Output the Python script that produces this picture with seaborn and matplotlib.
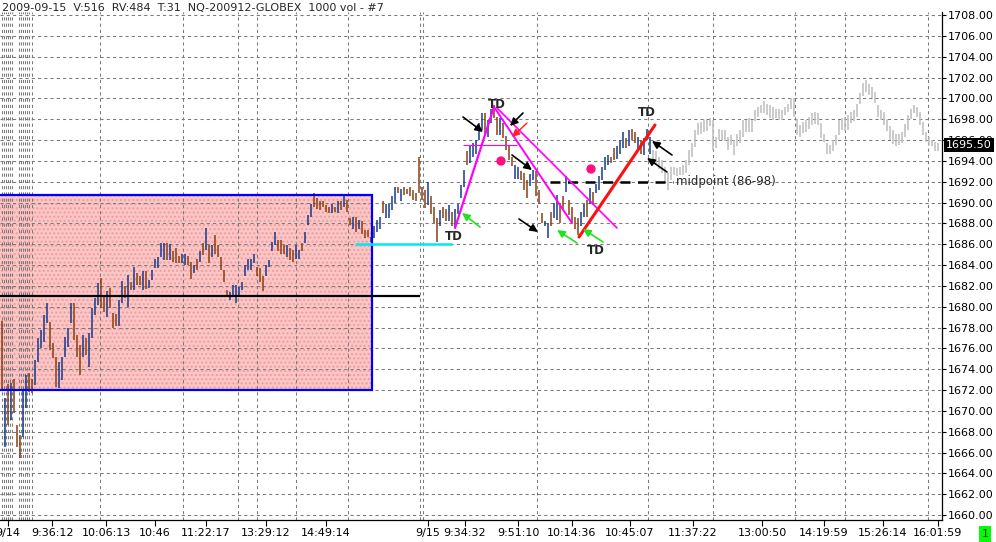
import numpy as np
import matplotlib
matplotlib.use("Agg")
import matplotlib.pyplot as plt
import matplotlib.transforms as mtransforms
from matplotlib.patches import Rectangle
import seaborn as sns

# 1000-volume bars, high / low per bar (9/14 afternoon -> 9/15)
hi_a = [1678.6, 1671.2, 1672.6, 1672.7, 1673.1, 1668.6, 1667.7, 1672.0, 1673.4, 1673.6,
        1673.1, 1674.9, 1677.0, 1677.8, 1679.2, 1680.4, 1678.5, 1676.5, 1675.2, 1674.7,
        1675.2, 1677.1, 1678.0, 1680.4, 1680.4, 1677.3, 1676.3, 1677.3, 1677.0, 1677.5,
        1679.9, 1680.8, 1682.3, 1682.8, 1681.0, 1681.5, 1681.8, 1679.4, 1679.3, 1680.6,
        1682.5, 1682.0, 1683.0]
lo_a = [1672.0, 1666.5, 1668.6, 1669.1, 1669.8, 1666.5, 1665.5, 1667.5, 1670.3, 1671.8,
        1671.7, 1672.5, 1674.7, 1676.0, 1676.6, 1678.4, 1675.8, 1675.1, 1672.3, 1672.2,
        1673.0, 1675.2, 1676.1, 1678.4, 1676.8, 1675.2, 1673.4, 1675.2, 1675.4, 1674.2,
        1677.0, 1679.2, 1680.2, 1679.9, 1679.5, 1679.0, 1679.9, 1678.0, 1678.1, 1678.1,
        1680.4, 1680.8, 1680.0]
dir_a = "dududdduud" "duuuuudddu" "uuuudddudu" "uuuddudddu" "udu"

hi_b = [1682.4, 1683.8, 1683.2, 1682.9, 1683.4, 1683.4, 1682.6, 1683.5, 1684.6, 1684.8,
        1686.1, 1686.1, 1686.1, 1686.0, 1685.3, 1685.6, 1684.9, 1685.1, 1685.1, 1684.9,
        1684.3, 1684.0, 1684.6, 1685.3, 1686.1, 1687.6, 1685.9, 1685.9, 1686.9, 1685.9,
        1684.8, 1683.5, 1681.6, 1681.4, 1682.1, 1682.1, 1681.9, 1682.4, 1684.0, 1684.6,
        1684.6, 1685.1]
lo_b = [1681.6, 1681.6, 1682.1, 1682.1, 1681.6, 1681.7, 1681.8, 1682.6, 1683.7, 1683.7,
        1684.8, 1684.5, 1684.5, 1684.5, 1684.3, 1684.2, 1684.2, 1684.2, 1684.0, 1684.0,
        1682.7, 1683.2, 1683.5, 1684.3, 1685.0, 1685.4, 1684.2, 1684.8, 1685.1, 1684.8,
        1683.5, 1682.4, 1681.1, 1680.6, 1681.1, 1680.4, 1681.1, 1681.6, 1682.9, 1683.5,
        1683.5, 1684.2]
dir_b = "dudduduuuu" "uududdduud" "dududududd" "ddduuuuuuu" "uu"

hi_c = [1683.8, 1683.7, 1682.9, 1684.0, 1684.5, 1686.2, 1687.2, 1686.4, 1686.4, 1685.9,
        1685.9, 1685.6, 1685.4, 1685.9, 1685.4, 1686.1, 1687.2, 1688.8, 1689.9, 1690.9,
        1690.4, 1690.1, 1690.1, 1689.8, 1689.6, 1689.9, 1689.6, 1690.1, 1690.1, 1690.7,
        1690.2, 1688.5, 1688.6, 1688.6, 1688.3, 1688.2, 1687.4, 1687.4, 1686.7, 1687.7,
        1688.3, 1688.6]
lo_c = [1682.9, 1682.4, 1681.5, 1682.9, 1683.8, 1685.3, 1685.9, 1685.3, 1685.1, 1685.1,
        1684.8, 1684.5, 1684.3, 1684.6, 1684.6, 1685.3, 1686.1, 1687.8, 1688.6, 1689.6,
        1689.4, 1689.3, 1689.6, 1689.1, 1689.0, 1689.0, 1689.1, 1689.0, 1689.3, 1689.6,
        1689.1, 1687.8, 1687.5, 1687.2, 1687.5, 1687.0, 1686.6, 1686.7, 1686.2, 1686.6,
        1687.2, 1687.5]
dir_c = "ddduuuuddd" "udduuduuud" "dddddududu" "ddududdduu" "uu"

hi_d = [1690.1, 1689.9, 1689.9, 1690.6, 1691.5, 1691.5, 1691.3, 1691.5, 1691.3, 1691.5,
        1691.2, 1690.9, 1694.4, 1691.5, 1691.2, 1692.0, 1690.6, 1689.6, 1688.5, 1689.3,
        1689.6, 1689.4, 1689.8, 1689.1, 1689.4, 1689.9, 1691.7, 1693.1, 1694.9, 1695.4,
        1695.7, 1696.0, 1697.6, 1698.6, 1698.6, 1697.9, 1699.0, 1699.4, 1698.2]
lo_d = [1689.0, 1688.5, 1688.5, 1689.3, 1690.0, 1690.9, 1690.1, 1690.7, 1690.8, 1690.6,
        1690.2, 1690.1, 1690.9, 1690.2, 1689.5, 1689.8, 1688.9, 1688.0, 1686.2, 1687.7,
        1688.5, 1688.2, 1688.2, 1687.7, 1687.6, 1688.9, 1690.4, 1691.5, 1693.6, 1693.8,
        1694.4, 1694.7, 1696.0, 1697.0, 1696.5, 1696.3, 1697.6, 1698.1, 1696.5]
dir_d = "duuuududdd" "dddddudddu" "dduduuuudu" "uuuuduudd"

hi_e = [1698.1, 1697.6, 1696.4, 1695.4, 1694.4, 1693.6, 1693.4, 1693.0, 1692.8, 1692.2,
        1692.7, 1693.1, 1693.0, 1691.2, 1689.0, 1688.2, 1688.0, 1689.1, 1690.0, 1690.7,
        1690.0, 1690.6, 1692.5, 1690.2, 1689.6, 1688.6, 1688.5, 1689.1, 1689.9, 1690.2,
        1691.4, 1691.0, 1691.8, 1692.5, 1693.4, 1694.4, 1694.6, 1694.4, 1695.2, 1695.4,
        1696.0, 1696.8, 1696.2, 1697.0, 1697.1, 1696.8, 1696.3, 1696.0, 1696.2, 1697.1,
        1696.3]
lo_e = [1696.5, 1696.2, 1695.0, 1694.1, 1693.5, 1692.3, 1692.3, 1692.2, 1691.2, 1690.4,
        1691.6, 1692.2, 1690.6, 1689.9, 1688.0, 1687.7, 1686.6, 1687.7, 1688.5, 1688.3,
        1688.0, 1689.3, 1691.0, 1688.8, 1688.0, 1687.5, 1686.9, 1687.7, 1688.6, 1688.6,
        1689.9, 1689.8, 1690.9, 1691.2, 1692.2, 1693.1, 1693.6, 1693.8, 1694.1, 1694.2,
        1694.7, 1695.2, 1695.2, 1695.4, 1696.0, 1695.7, 1695.0, 1694.7, 1694.6, 1696.0,
        1694.7]
dir_e = "udddduuddd" "uuddduuduu" "ddudddduud" "uduuuuuddu" "uududduduu" "u"

# faded bars (rest of the session, drawn grey)
hi_f = [1695.0, 1694.9, 1694.4, 1694.1, 1693.4, 1692.8, 1693.4, 1693.4, 1693.3, 1693.4,
        1693.6, 1694.1, 1695.0, 1695.7, 1697.0, 1697.6, 1697.7, 1697.9, 1697.9, 1698.1,
        1697.9, 1696.3, 1697.1, 1697.0, 1697.0, 1696.3, 1696.5, 1696.0, 1696.6, 1697.0,
        1697.9, 1697.9, 1698.1, 1697.9, 1698.9, 1699.2, 1699.4, 1699.7, 1699.5, 1699.4,
        1699.2, 1699.0, 1699.0, 1698.9, 1699.2, 1699.5, 1700.0, 1700.0, 1698.0, 1697.4,
        1697.7, 1697.9, 1698.2, 1698.6, 1698.7, 1698.6, 1697.6, 1696.6, 1695.7, 1695.5,
        1696.0, 1696.5, 1697.9, 1698.1, 1698.2, 1698.4, 1698.7, 1698.9, 1699.5, 1700.5,
        1701.5, 1701.8, 1701.4, 1701.1, 1700.6, 1699.4, 1698.9, 1698.7, 1698.0, 1697.3,
        1697.0, 1696.6, 1696.6, 1696.8, 1697.5, 1698.4, 1699.0, 1699.4, 1699.2, 1698.7,
        1697.7, 1696.8, 1696.3, 1696.0, 1695.8, 1695.7]
lo_f = [1693.9, 1693.6, 1693.2, 1692.8, 1692.0, 1691.2, 1692.2, 1692.6, 1692.5, 1692.6,
        1692.6, 1692.8, 1693.6, 1694.4, 1695.3, 1696.5, 1696.6, 1696.8, 1696.9, 1697.3,
        1695.0, 1695.2, 1696.0, 1696.0, 1695.9, 1695.0, 1695.5, 1694.6, 1695.4, 1695.7,
        1696.3, 1696.8, 1696.8, 1696.8, 1697.8, 1698.2, 1698.6, 1698.6, 1698.4, 1698.1,
        1697.9, 1698.1, 1697.9, 1697.9, 1698.4, 1698.7, 1699.0, 1698.2, 1696.5, 1696.3,
        1696.7, 1696.8, 1697.1, 1697.4, 1697.5, 1697.4, 1696.2, 1695.8, 1694.7, 1694.7,
        1694.9, 1695.5, 1696.5, 1697.0, 1696.9, 1697.0, 1697.6, 1697.8, 1698.2, 1699.5,
        1700.2, 1700.6, 1700.3, 1700.0, 1699.6, 1698.2, 1697.9, 1697.4, 1696.9, 1696.0,
        1695.6, 1695.4, 1695.5, 1695.7, 1696.3, 1697.0, 1698.0, 1698.6, 1698.2, 1697.4,
        1696.5, 1695.8, 1695.5, 1695.4, 1694.9, 1694.9]

# price levels drawn on the chart
box_low, box_high = 1672.0, 1690.75
box_mid = 1681.0
open_level = 1686.0
midpoint = 1692.0
last_price = 1695.50

price_ticks = np.arange(1660, 1710, 2)
time_labels = ["9/14", "9:36:12", "10:06:13", "10:46", "11:22:17", "13:29:12", "14:49:14",
               "9/15", "9:34:32", "9:51:10", "10:14:36", "10:45:07", "11:37:22",
               "13:00:50", "14:19:59", "15:26:14", "16:01:59"]
time_px = [8, 52, 106, 155, 206, 266, 326, 428, 465, 518, 572, 630, 693, 762, 824, 883, 938]
vgrid_px = [2, 4, 6, 8, 10, 12, 19, 21, 23, 25, 27, 29, 32, 100, 183, 238, 257, 296, 348,
            420, 423, 537, 648, 713, 795, 845, 928]

W, H = 996, 542
PX0, PX1, PY0, PY1 = 0, 942, 12, 520          # plot area in pixels
P_TOP = 1708 + (15 - PY0) / 10.417
P_BOT = 1708 - (PY1 - 15) / 10.417


def sx(px):
    # pixel column -> bar slot
    return (px - 2) / 3.0


def pp(py):
    # pixel row -> price
    return 1708 - (py - 15) / 10.417


sns.set_style("white")
plt.rcParams["font.family"] = ["DejaVu Sans"]

fig = plt.figure(figsize=(W / 100, H / 100), dpi=100)
ax = fig.add_axes([PX0 / W, 1 - PY1 / H, (PX1 - PX0) / W, (PY1 - PY0) / H])
ax.set_xlim(sx(PX0), sx(PX1))
ax.set_ylim(P_BOT, P_TOP)

BLUE, BROWN, GREY = "#163a8c", "#8a3f12", "#bdbdbd"
hi = np.array(hi_a + hi_b + hi_c + hi_d + hi_e + hi_f)
lo = np.array(lo_a + lo_b + lo_c + lo_d + lo_e + lo_f)
dirs = dir_a + dir_b + dir_c + dir_d + dir_e
cols = [BLUE if c == "u" else BROWN for c in dirs] + [GREY] * len(hi_f)
slot = np.arange(len(hi))

# range box
ax.add_patch(Rectangle((sx(-3), box_low), sx(372) - sx(-3), box_high - box_low,
                       facecolor="#fcc6c6", edgecolor="#ef9d9d", hatch="....", lw=0, zorder=0.5))
ax.add_patch(Rectangle((sx(-3), box_low), sx(372) - sx(-3), box_high - box_low,
                       facecolor="none", edgecolor="#0000ee", lw=1.6, zorder=4))

# grid
grid_kw = dict(colors="#7a7a7a", linestyles=(0, (3, 3)), linewidth=0.75, zorder=1)
ax.hlines(price_ticks, sx(PX0), sx(PX1), **grid_kw)
ax.vlines([sx(v) for v in vgrid_px], P_BOT, P_TOP, **grid_kw)

ax.vlines(slot, lo, hi, colors=cols, linewidth=1.1, zorder=3)

# levels
ax.hlines(box_mid, sx(0), sx(420), colors="black", linewidth=1.6, zorder=5)
ax.hlines(open_level, sx(355), sx(452), colors="#00e8f0", linewidth=1.8, zorder=5)
ax.hlines(midpoint, sx(550), sx(673), colors="black", linewidth=1.8,
          linestyles=(0, (4, 3)), zorder=5)
ax.text(sx(676), midpoint, "midpoint (86-98)", fontsize=8.5, va="center", ha="left", zorder=6)

# trend lines
MAG = "#ff00ff"
ax.plot([sx(455), sx(494)], [pp(228), pp(107)], color=MAG, lw=1.6, zorder=6)
ax.plot([sx(494), sx(572)], [pp(107), pp(223)], color=MAG, lw=1.4, zorder=6)
ax.plot([sx(497), sx(617)], [pp(108), pp(228)], color=MAG, lw=1.2, zorder=6)
ax.hlines(last_price, sx(463), sx(517), colors=MAG, linewidth=0.8, zorder=6)
ax.plot([sx(579), sx(655)], [pp(237), pp(125)], color="#ff1010", lw=2.2, zorder=6)

dots = {"x": [sx(501), sx(591)], "y": [pp(161), pp(169)]}
sns.scatterplot(x=dots["x"], y=dots["y"], ax=ax, color="#ff1080", s=45,
                edgecolor="none", zorder=7, legend=False)

for (x, y) in [(454, 237), (497, 104), (596, 250), (647, 113)]:
    ax.text(sx(x), pp(y), "TD", fontsize=8.5, fontweight="bold", ha="center",
            va="center", zorder=8)


def arrow(x0, y0, x1, y1, color, lw=1.2):
    ax.annotate("", xy=(sx(x1), pp(y1)), xytext=(sx(x0), pp(y0)), zorder=8,
                arrowprops=dict(arrowstyle="-|>,head_length=0.45,head_width=0.22",
                                color=color, lw=lw, shrinkA=0, shrinkB=0))


for a in [(463, 117, 483, 132), (523, 113, 510, 126), (512, 155, 532, 170),
          (519, 219, 538, 232), (672, 155, 652, 141), (667, 172, 647, 158)]:
    arrow(*a, color="black")
for a in [(480, 227, 462, 213), (577, 243, 557, 230), (603, 242, 583, 229)]:
    arrow(*a, color="#22e022")
arrow(527, 123, 512, 137, color="#ff2020", lw=1.0)

# axes dressing
for s in ["left", "top"]:
    ax.spines[s].set_visible(False)
for s in ["right", "bottom"]:
    ax.spines[s].set_color("black")
    ax.spines[s].set_linewidth(0.9)
ax.yaxis.tick_right()
ax.set_yticks(price_ticks)
ax.set_yticklabels([f"{v:.2f}" for v in price_ticks])
ax.set_xticks([sx(v) for v in time_px])
ax.set_xticklabels(time_labels)
ax.tick_params(axis="y", right=True, left=False, length=3, width=0.8, pad=1.5,
               labelsize=8, colors="black")
ax.tick_params(axis="x", bottom=True, length=4, width=0.8, pad=2, labelsize=8, colors="black")
ax.set_xlabel("")
ax.set_ylabel("")

tr = mtransforms.blended_transform_factory(ax.transAxes, ax.transData)
ax.text(1.004, last_price, "1695.50", transform=tr, fontsize=8, color="white",
        va="center", ha="left", zorder=10, clip_on=False,
        bbox=dict(boxstyle="square,pad=0.2", fc="black", ec="none"))

fig.text(2 / W, 1 - 8 / H, "2009-09-15  V:516  RV:484  T:31  NQ-200912-GLOBEX  1000 vol - #7",
         fontsize=8, va="center", ha="left")
fig.text(985 / W, 1 - 534 / H, "1", fontsize=8, va="center", ha="center",
         bbox=dict(boxstyle="square,pad=0.25", fc="#00ff00", ec="none"))

fig.savefig("out.png", dpi=100)
